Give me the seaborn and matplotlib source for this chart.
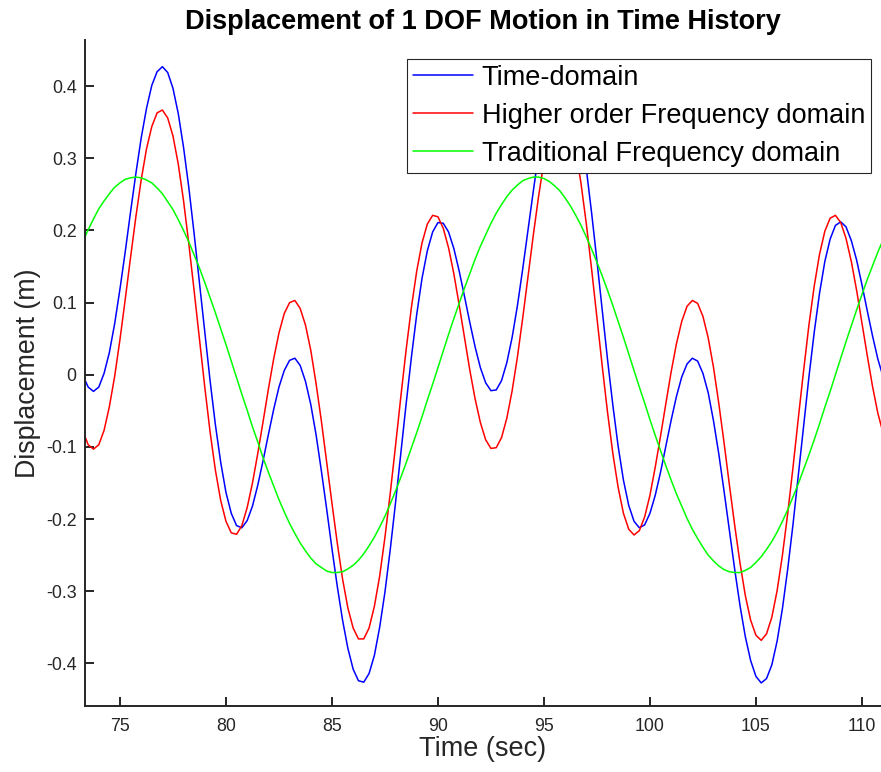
import numpy as np
import pandas as pd
import matplotlib
matplotlib.use("Agg")
import matplotlib.pyplot as plt
import seaborn as sns

# --- DATOS (desplazamiento en mm cada 0.25 s) ---
tiempo = np.arange(73.25, 111.01, 0.25)

time_domain_mm = [
    -1, -17, -23, -17, 2, 31, 71, 119, 171, 226,
    279, 328, 369, 401, 420, 427, 419, 397, 362, 315,
    259, 195, 127, 59, -8, -69, -121, -163, -192, -209,
    -212, -202, -182, -153, -119, -83, -48, -17, 6, 20,
    23, 13, -9, -41, -83, -133, -186, -241, -293, -340,
    -379, -408, -424, -426, -414, -389, -350, -301, -242, -177,
    -108, -40, 25, 84, 134, 172, 198, 211, 210, 198,
    175, 144, 109, 73, 39, 10, -11, -22, -21, -8,
    17, 52, 96, 147, 201, 255, 307, 352, 388, 413,
    426, 424, 409, 380, 338, 285, 224, 158, 89, 21,
    -42, -99, -146, -181, -203, -212, -208, -192, -167, -135,
    -99, -63, -30, -3, 15, 23, 19, 2, -25, -64,
    -110, -162, -216, -270, -320, -363, -396, -418, -427, -421,
    -402, -369, -324, -269, -207, -139, -70, -3, 59, 113,
    157, 188, 207, 212, 205, 186, 159, 125, 89, 54,
    22, -3,
]

higher_order_mm = [
    -78, -97, -103, -97, -77, -44, -2, 49, 105, 163,
    219, 270, 313, 344, 363, 367, 356, 331, 292, 241,
    181, 116, 49, -17, -79, -132, -174, -203, -219, -221,
    -209, -184, -150, -109, -65, -20, 22, 58, 85, 100,
    103, 92, 69, 34, -12, -64, -121, -178, -233, -283,
    -323, -351, -366, -366, -351, -321, -279, -225, -164, -98,
    -30, 35, 94, 144, 183, 209, 221, 219, 203, 176,
    140, 97, 52, 7, -33, -66, -90, -102, -101, -87,
    -60, -22, 25, 79, 137, 194, 248, 295, 332, 356,
    367, 363, 344, 311, 265, 209, 146, 79, 12, -52,
    -109, -156, -192, -214, -222, -216, -197, -167, -128, -85,
    -40, 4, 43, 74, 95, 103, 99, 81, 51, 10,
    -40, -95, -153, -209, -261, -306, -340, -361, -368, -359,
    -336, -299, -250, -192, -128, -60, 6, 69, 123, 167,
    199, 217, 221, 211, 189, 157, 117, 72, 27, -16,
    -53, -81,
]

traditional_mm = [
    185, 201, 216, 230, 241, 251, 260, 266, 271, 273,
    274, 273, 270, 266, 259, 251, 240, 229, 215, 200,
    184, 166, 148, 128, 107, 86, 64, 42, 19, -4,
    -27, -49, -72, -93, -115, -135, -154, -173, -190, -206,
    -220, -233, -244, -254, -262, -267, -272, -274, -274, -273,
    -269, -264, -257, -248, -237, -225, -211, -196, -179, -161,
    -142, -122, -101, -80, -58, -35, -13, 10, 33, 56,
    78, 99, 120, 140, 160, 178, 194, 210, 224, 236,
    247, 256, 263, 269, 272, 274, 274, 272, 268, 262,
    255, 245, 234, 221, 207, 191, 174, 156, 137, 117,
    96, 74, 52, 29, 6, -17, -39, -62, -84, -105,
    -126, -146, -165, -182, -199, -214, -227, -239, -250, -258,
    -265, -270, -273, -274, -274, -271, -267, -260, -252, -242,
    -231, -218, -203, -187, -169, -151, -131, -111, -90, -68,
    -45, -23, 0, 23, 46, 68, 90, 111, 132, 151,
    170, 187,
]

metodos = ["Time-domain", "Higher order Frequency domain", "Traditional Frequency domain"]
colores = ["#0000ff", "#ff0000", "#00ff00"]
x_ticks = [75, 80, 85, 90, 95, 100, 105, 110]
y_ticks = [-0.4, -0.3, -0.2, -0.1, 0, 0.1, 0.2, 0.3, 0.4]
y_tick_labels = ["-0.4", "-0.3", "-0.2", "-0.1", "0", "0.1", "0.2", "0.3", "0.4"]

# --- TABLA LARGA PARA SEABORN ---
series = [time_domain_mm, higher_order_mm, traditional_mm]
df = pd.concat([
    pd.DataFrame({"time": tiempo, "disp": np.array(s) / 1000.0, "method": m})
    for s, m in zip(series, metodos)
], ignore_index=True)

# --- ESTILO ---
sns.set_style("ticks", {"xtick.direction": "in", "ytick.direction": "in"})
plt.rcParams['font.family'] = ['Liberation Sans', 'DejaVu Sans']
plt.rcParams['axes.unicode_minus'] = False
gris = "#262626"

fig = plt.figure(figsize=(8.81, 7.72), dpi=100)
ax = fig.add_axes([85 / 881, 66 / 772, 796 / 881, 666 / 772])

sns.lineplot(data=df, x="time", y="disp", hue="method", hue_order=metodos,
             palette=dict(zip(metodos, colores)), linewidth=1.1, estimator=None,
             ax=ax, legend=False)

ax.set_xlim(73.35, 110.9)
ax.set_ylim(-0.459, 0.464)
sns.despine(ax=ax)
for s in ["left", "bottom"]:
    ax.spines[s].set_linewidth(1.4)
    ax.spines[s].set_color(gris)

ax.set_xticks(x_ticks)
ax.set_yticks(y_ticks)
ax.set_yticklabels(y_tick_labels)
ax.tick_params(length=6.3, width=1.4, labelsize=12.8, colors=gris)
ax.tick_params(axis="x", pad=8.5)
ax.tick_params(axis="y", pad=6)

ax.set_title("Displacement of 1 DOF Motion in Time History", fontsize=19.5,
             fontweight="bold", color="black", pad=7.7)
ax.set_xlabel("Time (sec)", fontsize=19.5, color=gris, labelpad=1)
ax.set_ylabel("Displacement (m)", fontsize=19.3, color=gris, labelpad=3.5)

leg = ax.legend(ax.lines[:3], metodos, loc="upper right",
                bbox_to_anchor=(871 / 881, 1 - 59 / 772), bbox_transform=fig.transFigure,
                borderaxespad=0, fontsize=19.5, fancybox=False, framealpha=1,
                edgecolor=gris, handlelength=2.2, handletextpad=0.33,
                borderpad=0.22, labelspacing=0.44)
leg.get_frame().set_linewidth(0.8)
for txt in leg.get_texts():
    txt.set_color("black")

fig.savefig("out.png", dpi=100)
